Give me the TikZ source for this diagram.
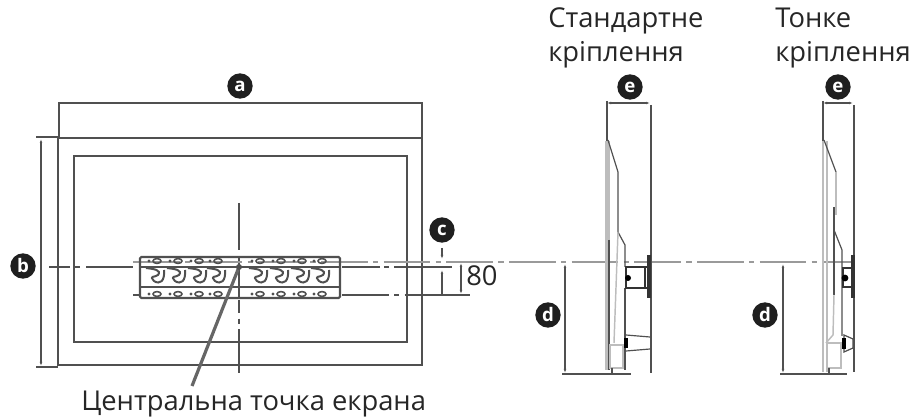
\documentclass[tikz,border=0pt]{standalone}
\usepackage{fontspec}
\setmainfont{Open Sans}
\usetikzlibrary{arrows.meta}
\definecolor{inkline}{HTML}{505050}
\definecolor{axisline}{HTML}{9A9A9A}
\definecolor{panelband}{HTML}{BDBDBD}
\tikzset{badge/.style={circle,fill=black!88,text=white,inner sep=0pt,minimum size=19pt,font=\bfseries\fontsize{14}{14}\selectfont},
	caption/.style={anchor=base west,inner sep=0pt,text=black!85,font=\fontsize{20.5}{20.5}\selectfont},
	dimline/.style={inkline,line width=0.9pt,{Latex[length=3pt,width=2pt]}-{Latex[length=3pt,width=2pt]}},
	outline/.style={inkline,line width=1.35pt},
	thinline/.style={inkline,line width=0.9pt},
	axis/.style={axisline,line width=1.2pt,dash pattern=on 35pt off 4pt on 4pt off 4pt}}

\begin{document}
\begin{tikzpicture}
  [x=0.75pt,y=-0.75pt]
  \useasboundingbox (0,0) rectangle (915,420);
  % front view
  \draw[outline] (58,138) rectangle (422,365);
  \draw[outline] (74,156) rectangle (407,342);
  \draw[outline] (59,138) -- (59,103) -- (422,103) -- (422,138);
  \draw[outline] (36,137) -- (58,137);
  \draw[outline] (36,367) -- (58,367);
  \draw[dimline] (41,139) -- (41,366);
  \node[badge] (a) at (240,86) {a};
  \node[badge] (b) at (23,266) {b};
  \node[badge] (c) at (442,230) {c};
  % centre lines
  \draw[outline] (239,203) -- (239,250);
  \draw[outline] (239,257) -- (239,298);
  \draw[outline,dash pattern=on 10pt off 4pt on 4pt off 4pt] (239,300) -- (239,342);
  \draw[outline] (239,342) -- (239,373);
  \draw[outline] (49,267) -- (70,267);
  \draw[outline] (74,267) -- (80,267);
  \draw[outline] (86,267) -- (133,267);
  \draw[outline] (342,267) -- (380,267);
  \draw[outline] (384,267) -- (389,267);
  \draw[outline] (394,267) -- (452,267);
  \draw[axis] (133,262) -- (853,262);
  \draw[outline] (133,295) -- (140,295);
  \draw[axis,inkline] (342,295) -- (405,295);
  \draw[outline] (407,295) -- (470,295);
  % wall plate
  \draw[outline,line width=1.6pt,rounded corners=1pt] (140,257) rectangle (340,298);
  \draw[outline,line width=1.6pt] (140,267) -- (340,267);
  \draw[outline,line width=1.6pt] (140,287) -- (340,287);
  \foreach \px in {157,178,199,218,260,281,302,322} {
    \draw[inkline,line width=1.2pt] (\px,261) ellipse (4 and 2.4);
    \draw[inkline,line width=1.2pt] (\px,294) ellipse (4 and 2.4);
    \fill[inkline] (\px-8,261) circle (1.6);
    \fill[inkline] (\px-8,294) circle (1.6);
    \draw[inkline,line width=1.5pt] (\px-11,268) .. controls (\px-3,269) and (\px+5,270) .. (\px+1,275)
      .. controls (\px-3,278) and (\px-8,275) .. (\px-3,281) .. controls (\px+3,285) and (\px+8,281) .. (\px+7,270);
  }
  % 80 mark
  \draw[dimline] (461,263) -- (461,294);
  \coordinate (cup) at (442,259);
  \coordinate (cdown) at (442,270);
  \draw[inkline,line width=1pt,-{Latex[length=3pt,width=2pt]}] (442,248) -- (cup);
  \draw[inkline,line width=1pt,-{Latex[length=3pt,width=2pt]}] (442,294) -- (cdown);
  \node[caption] (eighty) at (466,286) {80};
  % centre point
  \coordinate (ctr) at (239,267);
  \node[caption] (centre) at (81,411) {Центральна точка екрана};
  \coordinate (leader) at (192,386);
  \draw[black!60,line width=2.4pt] (ctr) -- (leader);
  \fill[inkline] (ctr) circle (3);
  % standard mount
  \node[caption] (std1) at (548,28) {Стандартне};
  \node[caption] (std2) at (548,62) {кріплення};
  \node[badge] (e1) at (630,87) {e};
  \node[badge] (d1) at (548,315) {d};
  \draw[dimline] (607,103) -- (650,103);
  \draw[outline] (607,101) -- (607,141);
  \draw[panelband,line width=3.6pt] (607.5,141) -- (607.5,370);
  \draw[thinline] (609,240) -- (609,370);
  \draw[outline] (651,105) -- (651,373);
  \draw[thinline] (608,140) -- (618,172) -- (618,232) -- (625,245) -- (625,267);
  \draw[panelband,line width=1.1pt] (618,232) -- (614,343);
  \draw[thinline] (625,288) -- (625,370);
  \draw[panelband,line width=1.1pt] (610,345) rectangle (623,368);
  \draw[thinline] (612,368) -- (612,374);
  \draw[black!80,line width=2.2pt] (650,288) -| (626,267) -| (650,288);
  \draw[black!80,line width=2.2pt] (645,267) -- (645,288);
  \draw[black!80,line width=2.4pt] (649,255) -- (649,298);
  \fill[black] (628,278) circle (3);
  \draw[thinline] (626,335) -- (650,337);
  \draw[thinline] (626,351) -- (650,349);
  \draw[black,line width=3pt] (626,338) -- (626,348);
  \draw[outline] (562,374) -- (631,374);
  \draw[dimline] (565,264) -- (565,373);
  % slim mount
  \node[caption] (slim1) at (775,28) {Тонке};
  \node[caption] (slim2) at (775,62) {кріплення};
  \node[badge] (e2) at (838,87) {e};
  \node[badge] (d2) at (765,315) {d};
  \draw[dimline] (823,103) -- (853,103);
  \draw[outline] (823,101) -- (823,141);
  \draw[panelband,line width=1.2pt] (823,141) -- (823,372);
  \draw[panelband,line width=1.2pt] (827,141) -- (827,372);
  \draw[outline] (854,105) -- (854,372);
  \draw[thinline] (824,140) -- (836,172);
  \draw[panelband,line width=1.1pt] (836,172) -- (836,215);
  \draw[thinline] (834,207) -- (834,295);
  \draw[thinline] (834,230) -- (842,250) -- (842,336);
  \draw[panelband,line width=1.1pt] (834,295) -- (833,335) -- (826,343);
  \draw[panelband,line width=1.1pt] (827,343) rectangle (841,368);
  \draw[black!80,line width=2.2pt] (853,268) -| (843,287) -- (853,287);
  \draw[black!80,line width=2.4pt] (853,255) -- (853,298);
  \fill[black] (845,278) circle (3.4);
  \draw[thinline] (844,335) -- (853,339) -- (853,348) -- (844,352) -- cycle;
  \draw[black,line width=3pt] (844,338) -- (844,349);
  \draw[thinline] (829,368) -- (829,374);
  \draw[outline] (780,374) -- (847,374);
  \draw[dimline] (783,264) -- (783,373);
\end{tikzpicture}
\end{document}
